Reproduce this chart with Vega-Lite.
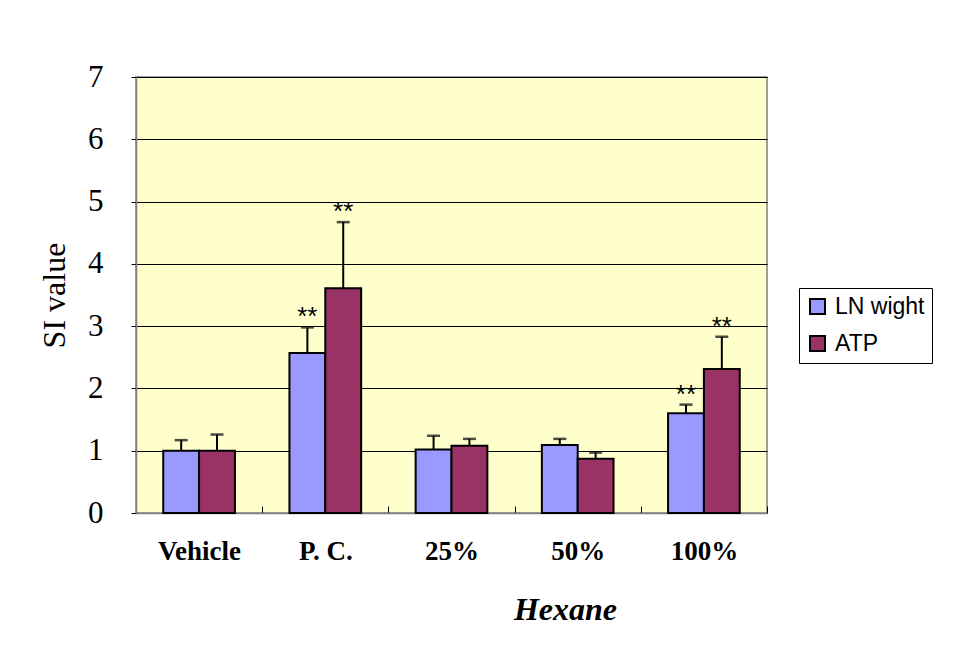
{
  "$schema": "https://vega.github.io/schema/vega-lite/v6.json",
  "width": 631,
  "height": 436,
  "autosize": {"type": "none"},
  "padding": {"left": 136, "top": 77, "right": 199, "bottom": 135},
  "background": "white",
  "config": {
    "view": {"fill": "#FFFFCC", "stroke": "#808080", "strokeWidth": 1.5},
    "axisY": {
      "title": "SI value",
      "titleFont": "Liberation Serif",
      "titleFontSize": 32,
      "titleFontWeight": "normal",
      "titleColor": "black",
      "titlePadding": 16,
      "labelFont": "Liberation Serif",
      "labelFontSize": 31,
      "labelColor": "black",
      "labelPadding": 28,
      "labelOverlap": false,
      "tickSize": 5,
      "tickColor": "black",
      "domainColor": "#808080",
      "domainWidth": 1.5,
      "grid": true,
      "gridColor": "black",
      "gridWidth": 1
    }
  },
  "data": {
    "values": [
      {"group": "Vehicle", "series": "LN wight", "value": 1.0, "err": 1.17, "sig": ""},
      {"group": "Vehicle", "series": "ATP", "value": 1.0, "err": 1.26, "sig": ""},
      {"group": "P. C.", "series": "LN wight", "value": 2.57, "err": 2.98, "sig": "**"},
      {"group": "P. C.", "series": "ATP", "value": 3.61, "err": 4.67, "sig": "**"},
      {"group": "25%", "series": "LN wight", "value": 1.02, "err": 1.24, "sig": ""},
      {"group": "25%", "series": "ATP", "value": 1.08, "err": 1.19, "sig": ""},
      {"group": "50%", "series": "LN wight", "value": 1.09, "err": 1.19, "sig": ""},
      {"group": "50%", "series": "ATP", "value": 0.87, "err": 0.97, "sig": ""},
      {"group": "100%", "series": "LN wight", "value": 1.6, "err": 1.74, "sig": "**"},
      {"group": "100%", "series": "ATP", "value": 2.31, "err": 2.83, "sig": "**"}
    ]
  },
  "encoding": {
    "x": {
      "field": "group",
      "type": "nominal",
      "sort": ["Vehicle", "P. C.", "25%", "50%", "100%"],
      "scale": {"paddingInner": 0, "paddingOuter": 0},
      "axis": {
        "title": "Hexane",
        "titleFont": "Liberation Serif",
        "titleFontSize": 32,
        "titleFontWeight": "bold",
        "titleFontStyle": "italic",
        "titleColor": "black",
        "titleX": 429,
        "titleY": 106,
        "titleBaseline": "alphabetic",
        "labelFont": "Liberation Serif",
        "labelFontSize": 27,
        "labelFontWeight": "bold",
        "labelColor": "black",
        "labelAngle": 0,
        "labelPadding": 32,
        "tickBand": "extent",
        "tickSize": -7,
        "tickColor": "black",
        "domainColor": "#808080",
        "domainWidth": 1.5
      }
    },
    "xOffset": {
      "field": "series",
      "type": "nominal",
      "sort": ["LN wight", "ATP"],
      "scale": {"paddingInner": 0, "paddingOuter": 0.76}
    }
  },
  "layer": [
    {
      "mark": {"type": "bar", "stroke": "black", "strokeWidth": 2},
      "encoding": {
        "y": {
          "field": "value",
          "type": "quantitative",
          "scale": {"domain": [0, 7], "nice": false},
          "axis": {"values": [0, 1, 2, 3, 4, 5, 6, 7], "title": "SI value"}
        },
        "color": {
          "field": "series",
          "type": "nominal",
          "sort": ["LN wight", "ATP"],
          "scale": {"domain": ["LN wight", "ATP"], "range": ["#9999FF", "#993366"]},
          "legend": {
            "title": null,
            "orient": "none",
            "legendX": 663,
            "legendY": 211,
            "direction": "vertical",
            "fillColor": "white",
            "strokeColor": "black",
            "padding": 7,
            "labelFont": "Liberation Sans",
            "labelFontSize": 23,
            "labelColor": "black",
            "labelLimit": 300,
            "symbolType": "square",
            "symbolSize": 225,
            "symbolStrokeColor": "black",
            "symbolStrokeWidth": 2,
            "symbolOpacity": 1,
            "rowPadding": 13,
            "labelOffset": 6
          }
        }
      }
    },
    {
      "mark": {"type": "rule", "color": "black", "strokeWidth": 2},
      "encoding": {
        "y": {"field": "value", "type": "quantitative", "axis": {"values": [0, 1, 2, 3, 4, 5, 6, 7], "title": "SI value"}},
        "y2": {"field": "err"}
      }
    },
    {
      "mark": {"type": "tick", "color": "black", "thickness": 2.5, "size": 13},
      "encoding": {
        "y": {"field": "err", "type": "quantitative", "axis": {"values": [0, 1, 2, 3, 4, 5, 6, 7], "title": "SI value"}}
      }
    },
    {
      "mark": {"type": "text", "font": "Liberation Sans", "fontSize": 26, "color": "black", "dy": -2, "baseline": "alphabetic"},
      "encoding": {
        "y": {"field": "err", "type": "quantitative", "axis": {"values": [0, 1, 2, 3, 4, 5, 6, 7], "title": "SI value"}},
        "text": {"field": "sig"}
      }
    }
  ]
}
